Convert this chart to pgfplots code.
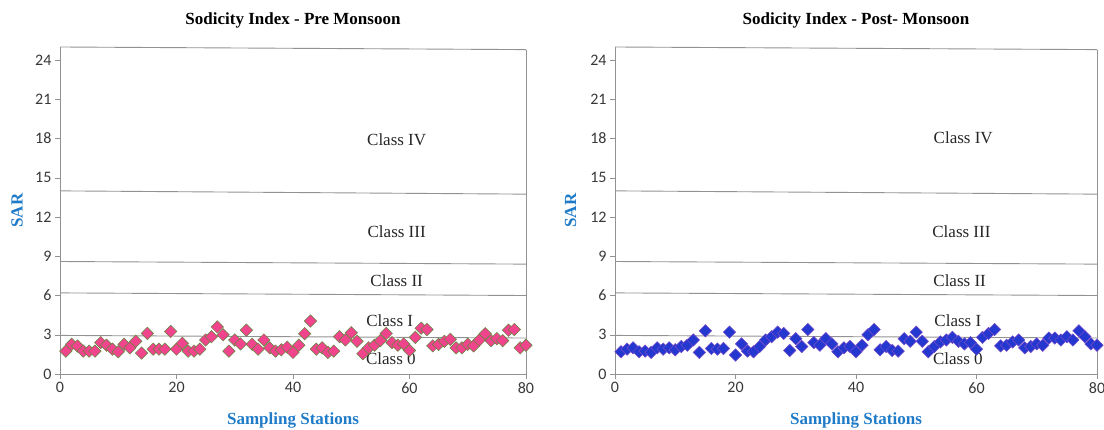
\documentclass[border=0pt]{standalone}
\usepackage{fontspec}
\setmainfont{Liberation Serif}
\newfontfamily\tickfont{Carlito}
\usepackage{pgfplots}
\pgfplotsset{compat=1.18}

\definecolor{labelblue}{HTML}{1F7BC8}
\definecolor{axisgray}{HTML}{929292}
\definecolor{ticktext}{HTML}{383838}
\definecolor{prefill}{HTML}{F0448C}
\definecolor{preedge}{HTML}{5E8A3C}
\definecolor{postfill}{HTML}{2438D0}
\definecolor{postedge}{HTML}{7A4BC8}

\pgfplotstableread{
st sar
1 1.75
2 2.27
3 2.14
4 1.75
5 1.75
6 1.75
7 2.4
8 2.2
9 1.9
10 1.7
11 2.27
12 2.0
13 2.5
14 1.6
15 3.1
16 1.9
17 1.9
18 1.9
19 3.25
20 1.9
21 2.35
22 1.75
23 1.75
24 1.9
25 2.6
26 2.85
27 3.6
28 3.0
29 1.75
30 2.6
31 2.3
32 3.35
33 2.27
34 1.9
35 2.6
36 2.0
37 1.75
38 1.85
39 2.05
40 1.65
41 2.2
42 3.08
43 4.05
44 1.9
45 2.0
46 1.65
47 1.75
48 2.85
49 2.6
50 3.15
51 2.5
52 1.55
53 2.0
54 2.2
55 2.55
56 3.1
57 2.4
58 2.2
59 2.3
60 1.8
61 2.8
62 3.5
63 3.4
64 2.15
65 2.27
66 2.5
67 2.65
68 2.0
69 2.0
70 2.27
71 2.15
72 2.6
73 3.08
74 2.55
75 2.7
76 2.55
77 3.35
78 3.4
79 2.0
80 2.2
}\premonsoon

\pgfplotstableread{
st sar
1 1.7
2 1.9
3 2.0
4 1.7
5 1.75
6 1.65
7 2.0
8 1.9
9 2.0
10 1.85
11 2.1
12 2.2
13 2.6
14 1.65
15 3.3
16 1.95
17 1.9
18 1.95
19 3.2
20 1.45
21 2.3
22 1.75
23 1.7
24 2.1
25 2.6
26 2.85
27 3.2
28 3.1
29 1.8
30 2.7
31 2.1
32 3.4
33 2.4
34 2.2
35 2.7
36 2.3
37 1.7
38 2.0
39 2.1
40 1.7
41 2.2
42 3.0
43 3.4
44 1.85
45 2.1
46 1.8
47 1.75
48 2.7
49 2.5
50 3.2
51 2.5
52 1.7
53 2.1
54 2.45
55 2.6
56 2.8
57 2.5
58 2.3
59 2.4
60 1.9
61 2.8
62 3.1
63 3.4
64 2.15
65 2.2
66 2.45
67 2.6
68 2.0
69 2.1
70 2.3
71 2.2
72 2.75
73 2.75
74 2.6
75 2.85
76 2.6
77 3.3
78 2.85
79 2.3
80 2.2
}\postmonsoon

\pgfplotsset{
  sodicity/.style={
    scale only axis,
    height=327pt,
    xmin=0, xmax=80, ymin=0, ymax=25,
    axis x line=bottom, axis y line=left,
    axis line style={-, draw=axisgray},
    xtick={0,20,40,60,80},
    ytick={0,3,6,9,12,15,18,21,24},
    tick align=outside,
    major tick length=5pt,
    tick style={draw=axisgray},
    ticklabel style={font=\tickfont\fontsize{16}{16}\selectfont, text=ticktext},
    /pgf/number format/assume math mode=true,
    clip=false,
    xlabel={Sampling Stations},
    ylabel={SAR},
    label style={font=\bfseries\fontsize{17}{17}\selectfont, text=labelblue},
    xlabel style={at={(axis description cs:0.5,-0.141)}, anchor=center},
    ylabel style={at={(axis description cs:-0.092,0.5)}, anchor=center},
    title style={at={(axis description cs:0.5,1)}, anchor=center, yshift=21pt,
                 font=\bfseries\fontsize{17}{17}\selectfont},
  },
  classline/.style={draw=axisgray, line width=0.9pt, forget plot},
}
\tikzset{classtext/.style={font=\fontsize{17}{17}\selectfont, text=black!85}}

\begin{document}
\begin{tikzpicture}
\useasboundingbox (0,0) rectangle (1104pt,430pt);

% Pre-monsoon panel
\begin{axis}[sodicity, width=466pt, at={(60pt,56pt)}, anchor=south west,
  title={Sodicity Index - Pre Monsoon}]
  \addplot[classline] coordinates {(0,25) (80,24.8)};
  \addplot[classline] coordinates {(80,24.8) (80,0)};
  \addplot[classline] coordinates {(0,14.0) (80,13.75)};
  \addplot[classline] coordinates {(0,8.6) (80,8.4)};
  \addplot[classline] coordinates {(0,6.2) (80,6.0)};
  \addplot[classline] coordinates {(0,2.95) (80,2.75)};
  \addplot[only marks, mark=square*, mark size=4.4pt,
    mark options={rotate=45, fill=prefill, draw=preedge, line width=0.5pt}]
    table[x=st, y=sar] {\premonsoon};
  \node[classtext] at (axis cs:57.8,17.9) {Class IV};
  \node[classtext] at (axis cs:57.8,10.9) {Class III};
  \node[classtext] at (axis cs:57.8,7.1) {Class II};
  \node[classtext] at (axis cs:56.6,4.1) {Class I};
  \node[classtext] at (axis cs:56.8,1.2) {Class 0};
\end{axis}

% Post-monsoon panel
\begin{axis}[sodicity, width=482pt, at={(615pt,56pt)}, anchor=south west,
  title={Sodicity Index - Post- Monsoon}]
  \addplot[classline] coordinates {(0,25) (80,24.8)};
  \addplot[classline] coordinates {(80,24.8) (80,0)};
  \addplot[classline] coordinates {(0,14.0) (80,13.75)};
  \addplot[classline] coordinates {(0,8.6) (80,8.4)};
  \addplot[classline] coordinates {(0,6.2) (80,6.0)};
  \addplot[classline] coordinates {(0,2.95) (80,2.75)};
  \addplot[only marks, mark=square*, mark size=4.4pt,
    mark options={rotate=45, fill=postfill, draw=postedge, line width=0.5pt}]
    table[x=st, y=sar] {\postmonsoon};
  \node[classtext] at (axis cs:57.8,18.1) {Class IV};
  \node[classtext] at (axis cs:57.5,10.9) {Class III};
  \node[classtext] at (axis cs:57.2,7.1) {Class II};
  \node[classtext] at (axis cs:56.9,4.05) {Class I};
  \node[classtext] at (axis cs:56.9,1.15) {Class 0};
\end{axis}
\end{tikzpicture}
\end{document}
